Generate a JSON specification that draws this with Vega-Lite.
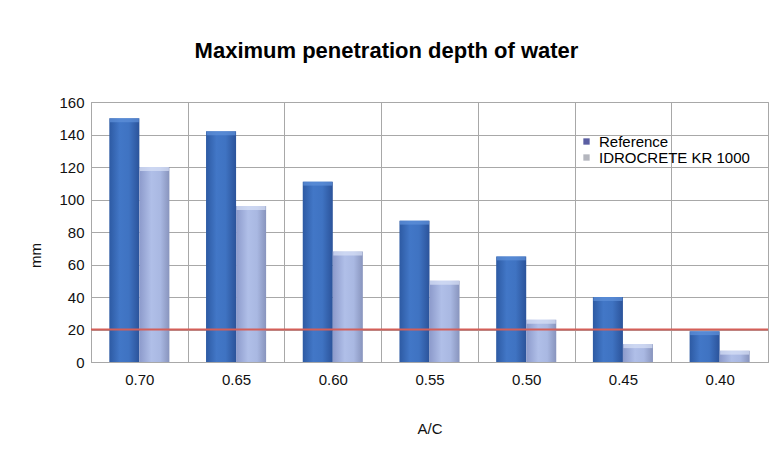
{
  "$schema": "https://vega.github.io/schema/vega-lite/v6.json",
  "width": 677,
  "height": 260,
  "autosize": {"type": "none"},
  "padding": {"left": 91, "top": 102, "right": 8, "bottom": 93},
  "background": "white",
  "title": {
    "text": "Maximum penetration depth of water",
    "font": "Liberation Sans",
    "fontSize": 22,
    "fontWeight": "bold",
    "color": "#000000",
    "anchor": "middle",
    "baseline": "alphabetic",
    "offset": 15,
    "dx": -43
  },
  "config": {
    "view": {"stroke": "#a8a8a8"},
    "font": "Liberation Sans",
    "axisY": {
      "labelOverlap": false,
      "labelFontSize": 15,
      "labelColor": "#111111",
      "labelPadding": 7,
      "ticks": false,
      "grid": true,
      "gridColor": "#a8a8a8",
      "domainColor": "#a8a8a8",
      "titleFontSize": 15,
      "titleFontWeight": "normal",
      "titleColor": "#111111",
      "titleAngle": -90,
      "titleAlign": "center",
      "titleBaseline": "middle",
      "titleX": -56,
      "titleY": 153
    },
    "axisX": {
      "labelAngle": 0,
      "labelFontSize": 15,
      "labelColor": "#111111",
      "labelPadding": 10,
      "ticks": false,
      "tickBand": "extent",
      "grid": true,
      "gridColor": "#a8a8a8",
      "domainColor": "#a8a8a8",
      "titleFontSize": 15,
      "titleFontWeight": "normal",
      "titleColor": "#111111",
      "titleBaseline": "middle",
      "titleY": 66
    }
  },
  "data": {
    "values": [
      {"ac": "0.70", "series": "Reference", "mm": 150},
      {"ac": "0.70", "series": "IDROCRETE KR 1000", "mm": 120},
      {"ac": "0.65", "series": "Reference", "mm": 142},
      {"ac": "0.65", "series": "IDROCRETE KR 1000", "mm": 96},
      {"ac": "0.60", "series": "Reference", "mm": 111},
      {"ac": "0.60", "series": "IDROCRETE KR 1000", "mm": 68},
      {"ac": "0.55", "series": "Reference", "mm": 87},
      {"ac": "0.55", "series": "IDROCRETE KR 1000", "mm": 50},
      {"ac": "0.50", "series": "Reference", "mm": 65},
      {"ac": "0.50", "series": "IDROCRETE KR 1000", "mm": 26},
      {"ac": "0.45", "series": "Reference", "mm": 40},
      {"ac": "0.45", "series": "IDROCRETE KR 1000", "mm": 11},
      {"ac": "0.40", "series": "Reference", "mm": 19},
      {"ac": "0.40", "series": "IDROCRETE KR 1000", "mm": 7}
    ]
  },
  "layer": [
    {
      "mark": {"type": "bar"},
      "encoding": {
        "x": {"field": "ac", "type": "nominal", "sort": null, "title": "A/C", "scale": {"paddingInner": 0, "paddingOuter": 0}},
        "xOffset": {
          "field": "series",
          "type": "nominal",
          "scale": {"domain": ["Reference", "IDROCRETE KR 1000"], "paddingInner": 0, "paddingOuter": 0.61}
        },
        "y": {
          "field": "mm",
          "type": "quantitative",
          "title": "mm",
          "scale": {"domain": [0, 160], "nice": false},
          "axis": {"values": [0, 20, 40, 60, 80, 100, 120, 140, 160]}
        },
        "color": {
          "condition": {
            "test": "datum.series === 'Reference'",
            "value": {"gradient": "linear", "x1": 0, "y1": 0, "x2": 1, "y2": 0,
              "stops": [
                {"offset": 0, "color": "#2d5aa3"},
                {"offset": 0.35, "color": "#4277c7"},
                {"offset": 0.65, "color": "#3f73c2"},
                {"offset": 1, "color": "#2b539a"}
              ]}
          },
          "value": {"gradient": "linear", "x1": 0, "y1": 0, "x2": 1, "y2": 0,
            "stops": [
              {"offset": 0, "color": "#8c9acb"},
              {"offset": 0.4, "color": "#b0bfe8"},
              {"offset": 0.7, "color": "#a9b8e2"},
              {"offset": 1, "color": "#8894bd"}
            ]}
        }
      }
    },
    {
      "mark": {"type": "tick", "thickness": 4, "size": 29, "yOffset": 2},
      "encoding": {
        "x": {"field": "ac", "type": "nominal", "sort": null, "title": "A/C"},
        "xOffset": {"field": "series", "type": "nominal"},
        "y": {"field": "mm", "type": "quantitative", "title": "mm", "axis": {"values": [0, 20, 40, 60, 80, 100, 120, 140, 160]}},
        "color": {
          "condition": {"test": "datum.series === 'Reference'", "value": "#5f92da"},
          "value": "#d8e1f6"
        }
      }
    },
    {
      "mark": {"type": "square", "opacity": 0},
      "encoding": {
        "x": {"field": "ac", "type": "nominal", "sort": null, "title": "A/C"},
        "xOffset": {"field": "series", "type": "nominal"},
        "y": {"field": "mm", "type": "quantitative", "title": "mm", "axis": {"values": [0, 20, 40, 60, 80, 100, 120, 140, 160]}},
        "color": {
          "field": "series",
          "type": "nominal",
          "scale": {"domain": ["Reference", "IDROCRETE KR 1000"], "range": ["#5a5ea2", "#b4b6be"]},
          "legend": {
            "orient": "none",
            "legendX": 488,
            "legendY": 32,
            "title": null,
            "padding": 0,
            "symbolType": "square",
            "symbolSize": 40,
            "symbolOpacity": 1,
            "symbolStrokeWidth": 0,
            "labelFontSize": 15,
            "labelColor": "#000000",
            "labelOffset": 5,
            "labelLimit": 300,
            "rowPadding": -2
          }
        }
      }
    },
    {
      "data": {"values": [{"limit": 20}]},
      "mark": {"type": "rule", "color": "#d45f58", "strokeWidth": 2},
      "encoding": {
        "y": {"field": "limit", "type": "quantitative", "title": "mm", "axis": {"values": [0, 20, 40, 60, 80, 100, 120, 140, 160]}}
      }
    }
  ]
}
